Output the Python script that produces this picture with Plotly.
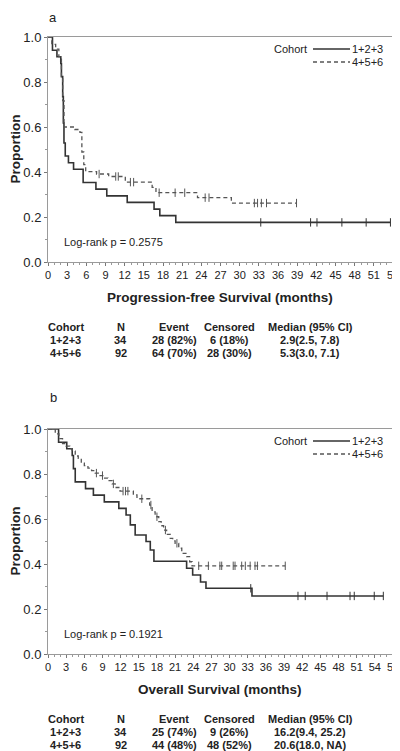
import numpy as np
import plotly.graph_objects as go

# ---------------- data ----------------
pfs_a_t = [0, 0.7, 1.4, 2.0, 2.1, 2.3, 2.4, 2.5, 2.7, 3.2, 4.0, 5.5, 7.5, 9.2, 12.4, 16.6, 17.5, 20.0, 53.6]
pfs_a_s = [1.0, 0.941, 0.912, 0.882, 0.824, 0.735, 0.618, 0.529, 0.471, 0.441, 0.412, 0.353, 0.324, 0.294, 0.265, 0.235, 0.206, 0.176, 0.176]
pfs_a_cens = [33.3, 41.1, 42.1, 46.0, 49.8, 53.6]

pfs_b_t = [0, 0.6, 1.2, 1.7, 2.1, 2.3, 2.5, 4.2, 5.0, 5.3, 5.6, 5.9, 7.6, 9.5, 12.1, 16.3, 16.9, 23.4, 28.7, 38.9]
pfs_b_s = [1.0, 0.967, 0.946, 0.913, 0.826, 0.717, 0.600, 0.589, 0.576, 0.489, 0.433, 0.402, 0.391, 0.380, 0.355, 0.332, 0.308, 0.286, 0.262, 0.262]
pfs_b_cens = [8.0, 10.6, 11.0, 12.9, 13.4, 17.4, 19.9, 21.4, 24.6, 25.2, 32.3, 32.8, 33.4, 34.2, 38.9]

os_a_t = [0, 1.75, 3.1, 4.0, 4.2, 4.5, 6.2, 7.5, 9.3, 11.7, 12.9, 13.6, 14.4, 16.2, 16.9, 17.5, 22.9, 23.9, 25.2, 26.1, 33.7, 55.4]
os_a_s = [1.0, 0.941, 0.912, 0.882, 0.824, 0.765, 0.735, 0.706, 0.676, 0.647, 0.618, 0.574, 0.529, 0.500, 0.462, 0.412, 0.381, 0.351, 0.320, 0.292, 0.258, 0.258]
os_a_cens = [33.5, 41.3, 42.5, 46.1, 49.9, 50.6, 53.9, 55.4]

os_b_t = [0, 1.2, 1.8, 2.4, 3.0, 3.6, 4.0, 4.5, 5.0, 5.5, 6.0, 6.6, 7.2, 7.8, 8.6, 9.2, 9.9, 10.6, 11.1, 11.9, 14.1, 14.7,
          16.8, 17.2, 17.7, 18.3, 18.7, 19.1, 19.6, 20.2, 20.6, 21.0, 21.6, 22.1, 22.9, 23.4, 23.8, 39.2]
os_b_s = [1.0, 0.978, 0.957, 0.935, 0.924, 0.913, 0.902, 0.880, 0.870, 0.848, 0.837, 0.826, 0.815, 0.804, 0.793, 0.782, 0.771, 0.756, 0.740, 0.724, 0.707, 0.690,
          0.662, 0.632, 0.610, 0.588, 0.570, 0.551, 0.532, 0.514, 0.503, 0.492, 0.470, 0.447, 0.433, 0.410, 0.392, 0.392]
os_b_cens = [8.0, 9.0, 10.8, 12.4, 12.8, 13.2, 15.5, 17.0, 18.0, 19.4, 21.3, 24.9, 26.5, 28.4, 28.7, 30.6, 30.9, 32.0, 32.6, 33.4, 34.2, 34.6, 39.2]

cohorts = ["1+2+3", "4+5+6"]
pvals = ["Log-rank p = 0.2575", "Log-rank p = 0.1921"]
panel_labels = ["a", "b"]
xtitles = ["Progression-free Survival (months)", "Overall Survival (months)"]
xmax = [54, 57]
table_header = ["Cohort", "N", "Event", "Censored", "Median (95% CI)"]
table_pfs = [["1+2+3", "34", "28 (82%)", "6 (18%)", "2.9(2.5, 7.8)"],
             ["4+5+6", "92", "64 (70%)", "28 (30%)", "5.3(3.0, 7.1)"]]
table_os = [["1+2+3", "34", "25 (74%)", "9 (26%)", "16.2(9.4, 25.2)"],
            ["4+5+6", "92", "44 (48%)", "48 (52%)", "20.6(18.0, NA)"]]

# ---------------- layout helpers ----------------
W, H = 400, 751
OFF = 8  # page body margin offset
def px(x): return (x - OFF) / W
def py(y): return 1 - (y - OFF) / H

FONT = "Liberation Sans, Arial, sans-serif"
SOLID = "#333333"
DASHC = "#555555"

def step_lookup(t, s, c):
    t = np.asarray(t); s = np.asarray(s)
    idx = np.searchsorted(t, np.asarray(c), side="right") - 1
    return s[idx]

fig = go.Figure()

panels = [
    dict(curves=[(pfs_a_t, pfs_a_s, pfs_a_cens), (pfs_b_t, pfs_b_s, pfs_b_cens)], top=37, bottom=262, table=table_pfs),
    dict(curves=[(os_a_t, os_a_s, os_a_cens), (os_b_t, os_b_s, os_b_cens)], top=429, bottom=654, table=table_os),
]

def ann(x, y, text, size=11, xanchor="center", yanchor="middle", **kw):
    return dict(x=px(x), y=py(y), text=text, showarrow=False, xref="paper", yref="paper",
                xanchor=xanchor, yanchor=yanchor, font=dict(family=FONT, size=size, color="#222"), **kw)

annotations = []
shapes = []
for i, p in enumerate(panels):
    xa = "x" if i == 0 else "x2"
    ya = "y" if i == 0 else "y2"
    for j, (t, s, c) in enumerate(p["curves"]):
        col = SOLID if j == 0 else DASHC
        fig.add_trace(go.Scatter(
            x=t, y=s, mode="lines", line=dict(color=col, width=1.6 if j == 0 else 1.3,
                                               dash="solid" if j == 0 else "4px,3px", shape="hv"),
            xaxis=xa, yaxis=ya, showlegend=False, cliponaxis=False, hoverinfo="skip"))
        fig.add_trace(go.Scatter(
            x=c, y=step_lookup(t, s, c), mode="markers",
            marker=dict(symbol="line-ns-open", size=6, color=col, line=dict(color=col, width=1)),
            xaxis=xa, yaxis=ya, showlegend=False, cliponaxis=False, hoverinfo="skip"))

    top, bottom = p["top"], p["bottom"]
    axis_common = dict(showgrid=False, zeroline=False, showline=True, linecolor="#9a9a9a", linewidth=1,
                       mirror=True, ticks="outside", tickcolor="#777777", ticklen=3, tickwidth=1,
                       automargin=False)
    fig.update_layout(**{
        ("xaxis" if i == 0 else "xaxis2"): dict(
            domain=[px(48), px(393)], range=[0, xmax[i]], dtick=3, tick0=0,
            tickfont=dict(family=FONT, size=11, color="#222"), ticklabeloverflow="allow",
            minor=dict(dtick=1, ticks="outside", ticklen=2, tickcolor="#999"),
            anchor=ya, **axis_common),
        ("yaxis" if i == 0 else "yaxis2"): dict(
            domain=[py(bottom), py(top)], range=[0, 1], dtick=0.2, tickformat=".1f",
            tickfont=dict(family=FONT, size=13, color="#222"), ticklabeloverflow="allow",
            minor=dict(dtick=0.1, ticks="outside", ticklen=2, tickcolor="#999"),
            anchor=xa, **axis_common),
    })

    # panel label
    lab_y = max(top - 32, OFF + 9)
    annotations.append(ann(53, lab_y, panel_labels[i], size=13))
    # y title
    annotations.append(ann(15, (top + bottom) / 2, "<b>Proportion</b>", size=13.5, textangle=-90))
    # x title
    annotations.append(ann(220, bottom + 35, "<b>" + xtitles[i] + "</b>", size=13.5))
    # log-rank
    annotations.append(ann(62, bottom - 20, pvals[i], xanchor="left"))
    # legend
    ly1, ly2 = top + 12, top + 25
    annotations.append(ann(272, ly1, "Cohort", xanchor="left"))
    for k, (ly, col, dash) in enumerate([(ly1, SOLID, "solid"), (ly2, DASHC, "4px,3px")]):
        shapes.append(dict(type="line", xref="paper", yref="paper", x0=px(313), x1=px(350), y0=py(ly), y1=py(ly),
                           line=dict(color=col, width=1.6 if k == 0 else 1.3, dash=dash)))
        annotations.append(ann(350, ly, cohorts[k], xanchor="left"))
    # table
    col_x = [66, 121, 174, 229, 310]
    rows_y = [bottom + 65, bottom + 78, bottom + 91]
    for r, row in enumerate([table_header] + p["table"]):
        for cidx, txt in enumerate(row):
            annotations.append(ann(col_x[cidx], rows_y[r], "<b>" + txt + "</b>"))

fig.update_layout(width=W, height=H, margin=dict(l=0, r=0, t=0, b=0, autoexpand=False),
                  paper_bgcolor="white", plot_bgcolor="white",
                  annotations=annotations, shapes=shapes, showlegend=False)

fig.write_html("out.html")
